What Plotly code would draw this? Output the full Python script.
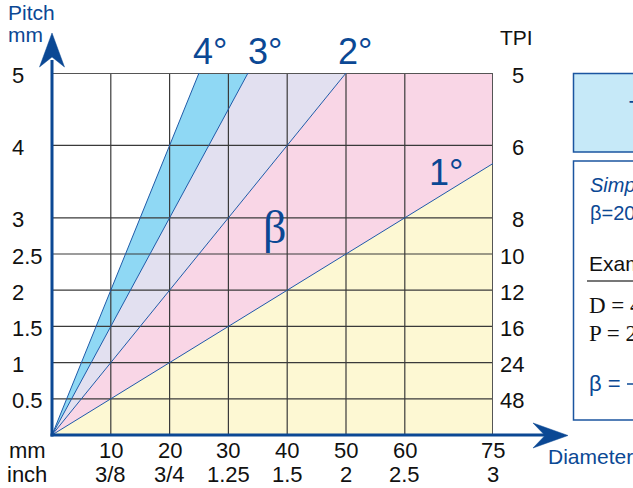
import plotly.graph_objects as go

# ---------------- data ----------------
x_ticks = [10, 20, 30, 40, 50, 60, 75]
x_mm_labels = ["10", "20", "30", "40", "50", "60", "75"]
x_inch_labels = ["3/8", "3/4", "1.25", "1.5", "2", "2.5", "3"]
pitch_ticks = [0.5, 1, 1.5, 2, 2.5, 3, 4, 5]
pitch_labels = ["0.5", "1", "1.5", "2", "2.5", "3", "4", "5"]
tpi_labels = ["48", "24", "16", "12", "10", "8", "6", "5"]
angle_labels = ["1°", "2°", "3°", "4°"]
angle_slopes = [0.05, 0.10, 0.15, 0.20]          # pitch (mm) per mm of diameter
band_colors = ["#fdf8d3", "#f9d6e6", "#e2e0f0", "#8fd8f4"]
X_MAX, Y_MAX = 75, 5

# ---------------- layout helpers ----------------
W, H = 633, 488
PL, PR, PT, PB = 52, 493, 73, 435
BLUE = "#0b4894"
SANS = "Liberation Sans, Arial, sans-serif"
SERIF = "Liberation Serif, Times New Roman, serif"


def xp(px):
    return (px - PL) / (PR - PL)


def yp(py):
    return (PB - py) / (PB - PT)


def line_end(s):
    if s * X_MAX <= Y_MAX:
        return (X_MAX, s * X_MAX)
    return (Y_MAX / s, Y_MAX)


fig = go.Figure()

# coloured bands between helix-angle lines
lower = [0.0] + angle_slopes[:-1]
for lo, hi, col in zip(lower, angle_slopes, band_colors):
    ex0, ey0 = line_end(lo)
    ex1, ey1 = line_end(hi)
    xs, ys = [0, ex0], [0, ey0]
    if ex0 == X_MAX and ey1 == Y_MAX and ey0 < Y_MAX:
        xs.append(X_MAX)
        ys.append(Y_MAX)
    xs += [ex1, 0]
    ys += [ey1, 0]
    fig.add_trace(go.Scatter(x=xs, y=ys, fill="toself", fillcolor=col, mode="none",
                             hoverinfo="skip", showlegend=False))

# grid lines (above fills)
gx, gy = [], []
for v in x_ticks[:-1]:
    gx += [v, v, None]
    gy += [0, Y_MAX, None]
for v in pitch_ticks[:-1]:
    gx += [0, X_MAX, None]
    gy += [v, v, None]
fig.add_trace(go.Scatter(x=gx, y=gy, mode="lines", line=dict(color="#3a3a3a", width=1.2),
                         hoverinfo="skip", showlegend=False))
# top / right border
fig.add_trace(go.Scatter(x=[0, X_MAX, X_MAX], y=[Y_MAX, Y_MAX, 0], mode="lines",
                         line=dict(color="#555555", width=2), hoverinfo="skip",
                         showlegend=False, cliponaxis=False))

# helix angle lines
lx, ly = [], []
for s in angle_slopes:
    ex, ey = line_end(s)
    lx += [0, ex, None]
    ly += [0, ey, None]
fig.add_trace(go.Scatter(x=lx, y=ly, mode="lines", line=dict(color="#1f5aa8", width=1),
                         hoverinfo="skip", showlegend=False))

ann = []
shapes = []

# y tick labels (left, pitch) and right (TPI)
for v, lab, tpi in zip(pitch_ticks, pitch_labels, tpi_labels):
    ann.append(dict(x=xp(10), xref="paper", y=v, yref="y", text=lab, showarrow=False,
                    xanchor="left", yanchor="middle", yshift=-2,
                    font=dict(family=SANS, size=22, color="#111111")))
    ann.append(dict(x=xp(526), xref="paper", y=v, yref="y", text=tpi, showarrow=False,
                    xanchor="right", yanchor="middle", yshift=-2,
                    font=dict(family=SANS, size=22, color="#111111")))

# x tick labels (mm / inch)
for v, mm, inch in zip(x_ticks, x_mm_labels, x_inch_labels):
    ann.append(dict(x=v, xref="x", y=yp(451), yref="paper", text=mm, showarrow=False,
                    xanchor="center", yanchor="middle",
                    font=dict(family=SANS, size=22, color="#111111")))
    ann.append(dict(x=v, xref="x", y=yp(474), yref="paper", text=inch, showarrow=False,
                    xanchor="center", yanchor="middle",
                    font=dict(family=SANS, size=22, color="#111111")))

ann.append(dict(x=xp(27), xref="paper", y=yp(451), yref="paper", text="mm", showarrow=False,
                xanchor="center", yanchor="middle", font=dict(family=SANS, size=22, color="#111111")))
ann.append(dict(x=xp(27), xref="paper", y=yp(474), yref="paper", text="inch", showarrow=False,
                xanchor="center", yanchor="middle", font=dict(family=SANS, size=22, color="#111111")))

# axis titles
ann.append(dict(x=xp(6), xref="paper", y=yp(13), yref="paper", text="Pitch", showarrow=False,
                xanchor="left", yanchor="middle", font=dict(family=SANS, size=21, color=BLUE)))
ann.append(dict(x=xp(6), xref="paper", y=yp(34), yref="paper", text="mm", showarrow=False,
                xanchor="left", yanchor="middle", font=dict(family=SANS, size=21, color=BLUE)))
ann.append(dict(x=xp(546), xref="paper", y=yp(456), yref="paper", text="Diameter", showarrow=False,
                xanchor="left", yanchor="middle", font=dict(family=SANS, size=21, color=BLUE)))
ann.append(dict(x=xp(516), xref="paper", y=yp(38), yref="paper", text="TPI", showarrow=False,
                xanchor="center", yanchor="middle", font=dict(family=SANS, size=21, color="#111111")))

# angle labels
top_label_x = {"2°": 51.5, "3°": 36.2, "4°": 26.9}
for lab in angle_labels:
    if lab in top_label_x:
        ann.append(dict(x=top_label_x[lab], xref="x", y=yp(51), yref="paper", text=lab,
                        showarrow=False, xanchor="center", yanchor="middle",
                        font=dict(family=SANS, size=36, color=BLUE)))
    else:
        ann.append(dict(x=67, xref="x", y=3.63, yref="y", text=lab,
                        showarrow=False, xanchor="center", yanchor="middle",
                        font=dict(family=SANS, size=36, color=BLUE)))
ann.append(dict(x=37.8, xref="x", y=2.87, yref="y", text="β", showarrow=False,
                xanchor="center", yanchor="middle", font=dict(family=SERIF, size=46, color=BLUE)))

# axes with arrowheads
AX_W = 3
shapes.append(dict(type="line", xref="paper", yref="paper", x0=xp(52), x1=xp(52),
                   y0=yp(436.5), y1=yp(60), line=dict(color=BLUE, width=AX_W)))
shapes.append(dict(type="line", xref="paper", yref="paper", x0=xp(50.5), x1=xp(545),
                   y0=yp(435), y1=yp(435), line=dict(color=BLUE, width=AX_W)))


def path(pts):
    return "M " + " L ".join(f"{xp(a):.5f},{yp(b):.5f}" for a, b in pts) + " Z"


shapes.append(dict(type="path", xref="paper", yref="paper",
                   path=path([(52, 33), (64.5, 67), (52, 57), (39.5, 67)]),
                   fillcolor=BLUE, line=dict(color=BLUE, width=0.5)))
shapes.append(dict(type="path", xref="paper", yref="paper",
                   path=path([(568, 435.5), (533, 448), (545, 435.5), (533, 423)]),
                   fillcolor=BLUE, line=dict(color=BLUE, width=0.5)))

# right-hand info panel (partly outside the view)
shapes.append(dict(type="rect", xref="paper", yref="paper", x0=xp(573.5), x1=xp(760),
                   y0=yp(152), y1=yp(73.5), fillcolor="#c6e9f8", line=dict(color="#1b55a0", width=1.5)))
shapes.append(dict(type="rect", xref="paper", yref="paper", x0=xp(573.5), x1=xp(760),
                   y0=yp(420), y1=yp(161), fillcolor="#ffffff", line=dict(color="#1b55a0", width=1.5)))
shapes.append(dict(type="line", xref="paper", yref="paper", x0=xp(587), x1=xp(760),
                   y0=yp(281), y1=yp(281), line=dict(color="#777777", width=2)))
shapes.append(dict(type="line", xref="paper", yref="paper", x0=xp(627), x1=xp(680),
                   y0=yp(384), y1=yp(384), line=dict(color=BLUE, width=1.5)))

panel = [
    ("Thread helix angle", 627, 108, SANS, 22, BLUE, False),
    ("Simplified formula:", 588, 185, SANS, 20, BLUE, True),
    ("β=20·P/D", 588, 213, SANS, 20, BLUE, False),
    ("Example:", 587, 263, SANS, 21, "#111111", False),
    ("D = 40 mm", 587, 305, SERIF, 23, "#111111", False),
    ("P = 2 mm", 587, 333, SERIF, 23, "#111111", False),
    ("β = ", 587, 383, SANS, 22, BLUE, False),
]
for txt, px, py, fam, size, col, ital in panel:
    t = f"<i>{txt}</i>" if ital else txt
    ann.append(dict(x=xp(px), xref="paper", y=yp(py), yref="paper", text=t, showarrow=False,
                    xanchor="left", yanchor="middle", font=dict(family=fam, size=size, color=col)))

fig.update_layout(
    width=W, height=H, autosize=False,
    margin=dict(l=PL, r=W - PR, t=PT, b=H - PB, pad=0),
    paper_bgcolor="white", plot_bgcolor="white",
    xaxis=dict(range=[0, X_MAX], showgrid=False, zeroline=False, showticklabels=False,
               showline=False, ticks="", fixedrange=True),
    yaxis=dict(range=[0, Y_MAX], showgrid=False, zeroline=False, showticklabels=False,
               showline=False, ticks="", fixedrange=True),
    annotations=ann, shapes=shapes, showlegend=False,
)

fig.write_html(
    "out.html",
    config={"displayModeBar": False},
    post_script="document.body.style.margin='0';document.body.style.overflow='hidden';"
                "document.documentElement.style.overflow='hidden';",
)
